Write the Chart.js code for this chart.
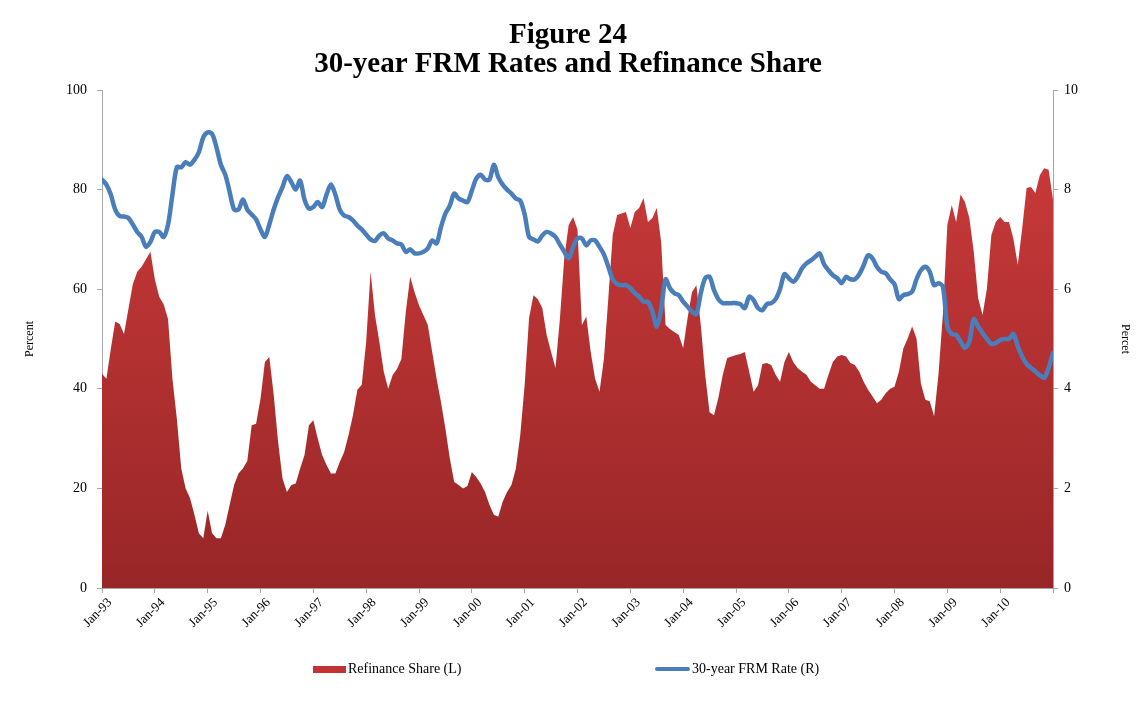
<!DOCTYPE html>
<html>
<head>
<meta charset="utf-8">
<title>Figure 24</title>
<script src="https://cdn.jsdelivr.net/npm/chart.js@4.4.1/dist/chart.umd.min.js"></script>
<style>
  html, body { margin: 0; padding: 0; background: #fff; }
  #wrap { position: relative; width: 1136px; height: 702px; }
  #legenda { position: absolute; left: 0; top: 659px; width: 1136px; height: 20px;
             font-family: "Liberation Serif", serif; font-size: 14px; color: #000; }
  .item { position: absolute; top: 0; display: flex; align-items: center; white-space: nowrap; height: 20px; }
  .marca { display: inline-block; margin-right: 2px; }
</style>
</head>
<body>
<div id="wrap">
  <canvas id="grafico" width="1136" height="702"></canvas>
  <div id="legenda"></div>
</div>
<script>
// rótulos do eixo x (um por ano, a cada 12 meses)
const tickLabels = ['Jan-93', 'Jan-94', 'Jan-95', 'Jan-96', 'Jan-97', 'Jan-98', 'Jan-99', 'Jan-00', 'Jan-01',
  'Jan-02', 'Jan-03', 'Jan-04', 'Jan-05', 'Jan-06', 'Jan-07', 'Jan-08', 'Jan-09', 'Jan-10'];

// participação de refinanciamento (%), mensal a partir de jan/93
const refinanceShare = [
  43, 42, 48, 53.5, 53, 51, 56, 61, 63.5, 64.5, 66, 67.5,
  62, 58.5, 57, 54, 42, 34, 24, 20, 18, 14.7, 11, 10,
  15.5, 11, 10, 10, 12.7, 16.7, 20.7, 23, 24, 25.5, 32.7, 33,
  38, 45.4, 46.4, 38.8, 29.3, 22, 19.3, 20.7, 21, 24, 26.7, 32.7,
  33.7, 30, 26.7, 24.7, 23, 23, 25.3, 27.3, 30.7, 34.7, 39.8, 40.8,
  49.4, 63.5, 54.8, 49.4, 43.4, 40, 42.7, 44, 46, 55.4, 62.5, 59.4,
  56.8, 54.8, 52.8, 47.4, 42, 37.3, 32, 26, 21.3, 20.7, 20, 20.5,
  23.3, 22.3, 21, 19.3, 16.7, 14.7, 14.3, 17.3, 19.3, 20.7, 24, 30.7,
  40.8, 54.2, 58.8, 58, 56.2, 50.8, 47.4, 44.2, 54, 66.3, 72.9, 74.5,
  72, 52.8, 54.5, 47.4, 42, 39.4, 46, 58.2, 70.9, 74.9, 75.2, 75.5,
  72.3, 75.5, 76.3, 78.3, 73.5, 74.3, 76.3, 69.5, 52.8, 52, 51.4, 50.8,
  48.2, 54.2, 59.4, 60.8, 52.8, 42.8, 35.3, 34.7, 38.2, 42.8, 46.2, 46.5,
  46.8, 47, 47.4, 43.4, 39.4, 40.7, 45, 45.2, 44.8, 42.8, 41.4, 45.4,
  47.4, 45.4, 44.2, 43.4, 42.8, 41.4, 40.7, 40, 40, 42.8, 45.4, 46.5,
  46.8, 46.5, 45.2, 44.8, 43.4, 41.4, 39.8, 38.5, 37.1, 37.8, 39.1, 40,
  40.4, 43.4, 48.1, 50.1, 52.5, 50.1, 41, 37.8, 37.5, 34.5, 43, 55,
  72.9, 76.9, 73.5, 79, 77.5, 74.3, 67.5, 58.2, 54.8, 60.2, 70.9, 73.5,
  74.5, 73.5, 73.5, 70.2, 64.9, 72.2, 80.3, 80.5, 79.3, 82.9, 84.3, 84,
  78
];

// taxa FRM 30 anos (%), mesmo período
const frmRate = [
  8.2, 8.1, 7.9, 7.6, 7.47, 7.46, 7.43, 7.3, 7.15, 7.05, 6.85, 6.95,
  7.15, 7.15, 7.05, 7.3, 7.9, 8.45, 8.45, 8.55, 8.5, 8.6, 8.75, 9.05,
  9.15, 9.12, 8.85, 8.5, 8.3, 7.95, 7.6, 7.6, 7.8, 7.6, 7.5, 7.4,
  7.2, 7.05, 7.3, 7.6, 7.85, 8.05, 8.27, 8.15, 8.0, 8.18, 7.8, 7.62,
  7.65, 7.75, 7.65, 7.9, 8.1, 7.9, 7.6, 7.48, 7.45, 7.38, 7.28, 7.2,
  7.1, 7.0, 6.97, 7.08, 7.12, 7.02, 6.98, 6.92, 6.9, 6.75, 6.8, 6.72,
  6.72, 6.75, 6.82, 6.98, 6.92, 7.25, 7.52, 7.68, 7.92, 7.82, 7.78, 7.75,
  7.98, 8.22, 8.3, 8.2, 8.2, 8.5, 8.25, 8.1, 8.0, 7.92, 7.82, 7.78,
  7.5, 7.05, 7.0, 6.96, 7.08, 7.15, 7.12, 7.05, 6.9, 6.75, 6.62, 6.85,
  7.02, 7.02, 6.88, 6.98, 6.98, 6.85, 6.7, 6.45, 6.2, 6.1, 6.08, 6.08,
  6.02, 5.92, 5.85, 5.75, 5.75, 5.55, 5.25, 5.6, 6.2, 6.02, 5.92, 5.88,
  5.75, 5.65, 5.55, 5.5, 5.92, 6.22, 6.25, 5.98, 5.8, 5.72, 5.72, 5.72,
  5.72, 5.7, 5.62, 5.85, 5.78, 5.62, 5.58, 5.7, 5.72, 5.8, 6.0, 6.3,
  6.22, 6.15, 6.25, 6.42, 6.52, 6.58, 6.65, 6.72, 6.5, 6.38, 6.28, 6.22,
  6.12, 6.25, 6.2, 6.2, 6.3, 6.48, 6.68, 6.62, 6.45, 6.35, 6.32, 6.2,
  6.1, 5.8, 5.88, 5.9, 5.95, 6.2, 6.38, 6.45, 6.35, 6.08, 6.12, 6.05,
  5.25, 5.1, 5.08, 4.95, 4.82, 4.95, 5.4, 5.25, 5.12, 5.0, 4.9, 4.92,
  4.98, 5.0, 5.0, 5.1, 4.85, 4.65, 4.5, 4.42, 4.35, 4.27, 4.22, 4.42,
  4.72
];

const corVermelha = '#c23434';
const corAzul = '#4a7ebb';
const fonteSerif = 'Liberation Serif';

function gradienteVermelho(context) {
  const chart = context.chart;
  const area = chart.chartArea;
  if (!area) return corVermelha;
  const g = chart.ctx.createLinearGradient(0, area.top, 0, area.bottom);
  g.addColorStop(0, '#d03c3c');
  g.addColorStop(1, '#982627');
  return g;
}

function montarLegenda(datasets) {
  const legenda = document.getElementById('legenda');
  const posicoes = [313, 655];
  datasets.forEach((ds, i) => {
    const item = document.createElement('div');
    item.className = 'item';
    item.style.left = posicoes[i] + 'px';
    const marca = document.createElement('span');
    marca.className = 'marca';
    if (ds.fill) {
      marca.style.width = '33px';
      marca.style.height = '7px';
      marca.style.background = corVermelha;
    } else {
      marca.style.width = '35px';
      marca.style.height = '4px';
      marca.style.borderRadius = '2px';
      marca.style.background = ds.borderColor;
    }
    item.appendChild(marca);
    item.appendChild(document.createTextNode(ds.label));
    legenda.appendChild(item);
  });
}

const datasets = [
  {
    label: 'Refinance Share (L)',
    data: refinanceShare.map((v, i) => ({ x: i, y: v })),
    yAxisID: 'y',
    fill: 'origin',
    backgroundColor: gradienteVermelho,
    borderWidth: 0,
    pointRadius: 0,
    tension: 0,
    order: 2
  },
  {
    label: '30-year FRM Rate (R)',
    data: frmRate.map((v, i) => ({ x: i, y: v })),
    yAxisID: 'y1',
    fill: false,
    borderColor: corAzul,
    borderWidth: 4.5,
    borderCapStyle: 'round',
    borderJoinStyle: 'round',
    pointRadius: 0,
    tension: 0.3,
    order: 1
  }
];

const eixoCor = '#a6a6a6';

new Chart(document.getElementById('grafico'), {
  type: 'line',
  data: { datasets: datasets },
  options: {
    responsive: false,
    animation: false,
    events: [],
    layout: { padding: { left: 0, right: 0, top: 0, bottom: 54 } },
    plugins: {
      legend: { display: false },
      tooltip: { enabled: false },
      title: {
        display: true,
        text: ['Figure 24', '30-year FRM Rates and Refinance Share'],
        color: '#000',
        font: { family: fonteSerif, size: 29, weight: 'bold', lineHeight: 1.0 },
        padding: { top: 21, bottom: 11 }
      }
    },
    scales: {
      x: {
        type: 'linear',
        min: 0,
        max: 216,
        afterFit: (scale) => { scale.height = 60; },
        grid: { drawOnChartArea: false, drawTicks: true, tickLength: 5, color: eixoCor },
        border: { color: eixoCor },
        ticks: {
          stepSize: 12,
          autoSkip: false,
          maxRotation: 45,
          minRotation: 45,
          padding: 2,
          labelOffset: 8,
          color: '#000',
          font: { family: fonteSerif, size: 13 },
          callback: (v) => tickLabels[v / 12] || ''
        }
      },
      y: {
        position: 'left',
        min: 0,
        max: 100,
        afterFit: (scale) => { scale.width = 102; },
        grid: { drawOnChartArea: false, drawTicks: true, tickLength: 5, color: eixoCor },
        border: { color: eixoCor },
        ticks: { stepSize: 20, padding: 10, color: '#000', font: { family: fonteSerif, size: 14 } },
        title: { display: true, text: 'Percent', color: '#000', font: { family: fonteSerif, size: 12 }, padding: { top: 23, bottom: 0 } }
      },
      y1: {
        position: 'right',
        min: 0,
        max: 10,
        afterFit: (scale) => { scale.width = 83; },
        grid: { drawOnChartArea: false, drawTicks: true, tickLength: 5, color: eixoCor },
        border: { color: eixoCor },
        ticks: { stepSize: 2, padding: 6, color: '#000', font: { family: fonteSerif, size: 14 } },
        title: { display: true, text: 'Percet', color: '#000', font: { family: fonteSerif, size: 12 }, padding: { top: 4, bottom: 0 } }
      }
    }
  }
});

montarLegenda(datasets);
</script>
</body>
</html>
